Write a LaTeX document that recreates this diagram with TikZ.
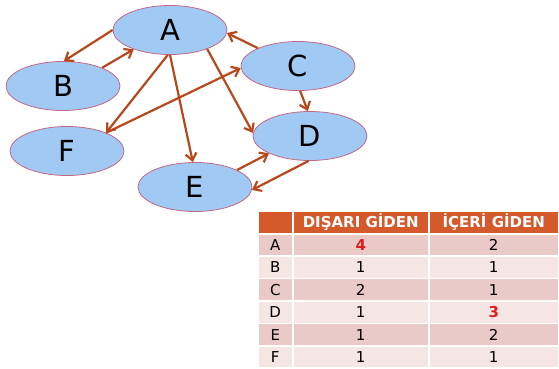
\documentclass[tikz,border=0pt]{standalone}
\usepackage{fontspec}
\setmainfont{DejaVu Sans}
\usetikzlibrary{shapes.geometric,arrows.meta}

\definecolor{nodeblue}{RGB}{160,202,244}
\definecolor{nodeline}{RGB}{196,104,132}
\definecolor{edgebrown}{RGB}{184,72,28}
\definecolor{headred}{RGB}{212,90,44}
\definecolor{rowdark}{RGB}{234,202,199}
\definecolor{rowlight}{RGB}{245,229,227}
\definecolor{hired}{RGB}{222,30,30}

\newcommand{\hi}[1]{\textcolor{hired}{\textbf{#1}}}

\begin{document}
\begin{tikzpicture}[x=1pt,y=-1pt,
  vertex/.style={ellipse,draw=nodeline,fill=nodeblue,line width=0.8pt,
    minimum width=114pt,minimum height=49pt,inner sep=0pt,font=\fontsize{29}{29}\selectfont},
  edge/.style={draw=edgebrown,line width=2.2pt,-{Straight Barb[length=7pt,width=11pt]}},
  cell/.style={draw=white,line width=1.5pt,inner sep=0pt,anchor=north west,
    font=\fontsize{15}{15}\selectfont}]

\useasboundingbox (0,0) rectangle (559,368);

% the graph
\node[vertex] (A) at (170,30) {A};
\node[vertex] (B) at (63,86) {B};
\node[vertex] (C) at (298,66) {C};
\node[vertex] (F) at (67,151) {F};
\node[vertex] (D) at (310,136) {D};
\node[vertex] (E) at (195,187) {E};

\draw[edge] (A.180) -- (B.88);
\draw[edge] (B.25) -- (A.208);
\draw[edge] (C.156) -- (A.357);
\draw[edge] (A.265) -- (F.25);
\draw[edge] (F.25) -- (C.182);
\draw[edge] (A.270) -- (E.95);
\draw[edge] (A.333) -- (D.177);
\draw[edge] (C.275) -- (D.95);
\draw[edge] (E.22) -- (D.203);
\draw[edge] (D.267) -- (E.357);

% the table
\node[cell,fill=headred,minimum width=35pt,minimum height=23pt] (h0) at (257,210) {};
\node[cell,fill=headred,minimum width=136pt,minimum height=23pt,text=white,font=\fontsize{15}{15}\selectfont\bfseries] (h1) at (292,210) {DIŞARI GİDEN};
\node[cell,fill=headred,minimum width=130pt,minimum height=23pt,text=white,font=\fontsize{15}{15}\selectfont\bfseries] (h2) at (428,210) {İÇERİ GİDEN};

\foreach \name/\outd/\ind/\shade [count=\i] in
  {A/{\hi{4}}/2/rowdark, B/1/1/rowlight, C/2/1/rowdark,
   D/1/{\hi{3}}/rowlight, E/1/2/rowdark, F/1/1/rowlight} {
  \node[cell,fill=\shade,minimum width=35pt,minimum height=22.4pt] (r\name0) at (257,233+22.4*\i-22.4) {\name};
  \node[cell,fill=\shade,minimum width=136pt,minimum height=22.4pt] (r\name1) at (292,233+22.4*\i-22.4) {\outd};
  \node[cell,fill=\shade,minimum width=130pt,minimum height=22.4pt] (r\name2) at (428,233+22.4*\i-22.4) {\ind};
}
\end{tikzpicture}
\end{document}
